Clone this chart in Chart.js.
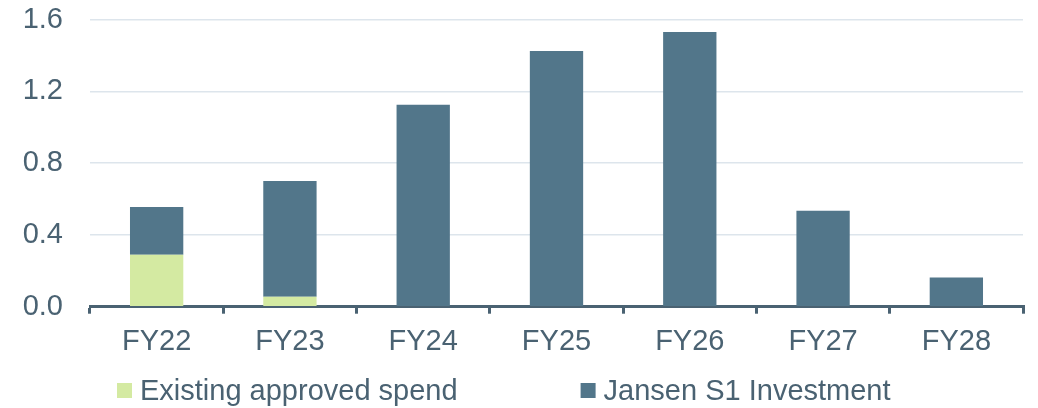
<!DOCTYPE html>
<html>
<head>
<meta charset="utf-8">
<script src="https://cdn.jsdelivr.net/npm/chart.js@4.4.0/dist/chart.umd.min.js"></script>
<style>
	html, body { margin: 0; padding: 0; background: #fff; }
	#wrap { width: 1038px; height: 408px; }
</style>
</head>
<body>
<div id="wrap"><canvas id="chart" width="1038" height="408"></canvas></div>
<script>
var categories = ['FY22', 'FY23', 'FY24', 'FY25', 'FY26', 'FY27', 'FY28'];
var existingSpend = [0.29, 0.055, 0, 0, 0, 0, 0];
var jansenS1 = [0.265, 0.645, 1.125, 1.425, 1.53, 0.535, 0.162];
var yTicks = [0.0, 0.4, 0.8, 1.2, 1.6];

var textColor = '#4a6272';
var fontFamily = '"Liberation Sans", Arial, sans-serif';

// legend drawn under the axis labels
var legendPlugin = {
	id: 'bottomLegend',
	afterDraw: function(chart) {
		var ctx = chart.ctx;
		var x = chart.chartArea.left + 27;
		var boxTop = 383;
		ctx.save();
		ctx.font = '29px ' + fontFamily;
		ctx.textBaseline = 'alphabetic';
		chart.data.datasets.forEach(function(ds) {
			ctx.fillStyle = ds.backgroundColor;
			ctx.fillRect(x, boxTop, 15, 15);
			x += 15 + 8;
			ctx.fillStyle = textColor;
			ctx.fillText(ds.label, x, 400);
			x += ctx.measureText(ds.label).width + 123;
		});
		ctx.restore();
	}
};

var chart = new Chart(document.getElementById('chart'), {
	type: 'bar',
	data: {
		labels: categories,
		datasets: [
			{
				label: 'Existing approved spend',
				data: existingSpend,
				backgroundColor: '#d4eaa2',
				categoryPercentage: 1,
				barPercentage: 0.4
			},
			{
				label: 'Jansen S1 Investment',
				data: jansenS1,
				backgroundColor: '#52768a',
				categoryPercentage: 1,
				barPercentage: 0.4
			}
		]
	},
	options: {
		responsive: false,
		animation: false,
		layout: { padding: { top: 19.5, right: 15, bottom: 37.5, left: 0 } },
		plugins: {
			legend: { display: false },
			tooltip: { enabled: false }
		},
		scales: {
			x: {
				stacked: true,
				border: { display: true, color: textColor, width: 3 },
				grid: {
					offset: true,
					drawOnChartArea: false,
					drawTicks: true,
					tickLength: 7,
					lineWidth: 3,
					color: textColor
				},
				ticks: {
					color: textColor,
					padding: 11,
					font: { family: fontFamily, size: 29 }
				}
			},
			y: {
				stacked: true,
				min: 0,
				max: 1.6,
				afterFit: function(scale) {
					scale.width = 90;
					scale.paddingTop = 0;
					scale.paddingBottom = 0;
				},
				afterBuildTicks: function(scale) {
					scale.ticks = yTicks.map(function(v) { return { value: v }; });
				},
				border: { display: false },
				grid: { color: '#dde5ec', lineWidth: 1.5, drawTicks: false },
				ticks: {
					color: textColor,
					padding: 27,
					font: { family: fontFamily, size: 29 },
					callback: function(v) { return Number(v).toFixed(1); }
				}
			}
		}
	},
	plugins: [legendPlugin]
});
</script>
</body>
</html>
